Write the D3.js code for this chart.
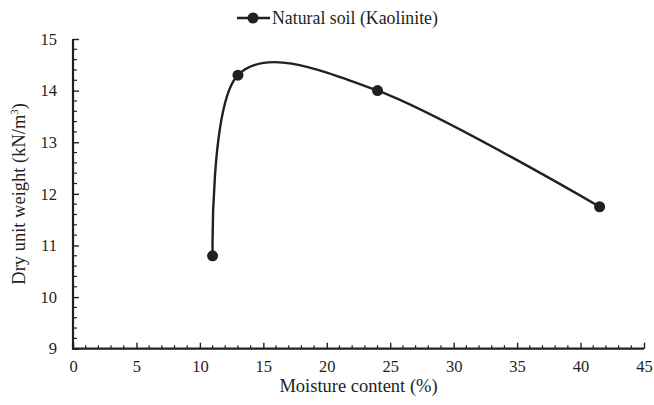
<!DOCTYPE html>
<html>
<head>
<meta charset="utf-8">
<script src="https://cdn.jsdelivr.net/npm/d3@7"></script>
</head>
<body style="margin:0;background:#fff">
<svg id="chart" width="654" height="405"></svg>
<script>
// data
const moisture = [11, 13, 24, 41.5];
const dryWeight = [10.8, 14.3, 14.0, 11.75];
const seriesName = "Natural soil (Kaolinite)";
const xTicks = [0, 5, 10, 15, 20, 25, 30, 35, 40, 45];
const yTicks = [9, 10, 11, 12, 13, 14, 15];

const ink = "#231f20";
const fontName = '"Liberation Serif"';

let svg = d3.select("#chart");

const x = d3.scaleLinear().domain([0, 45]).range([73, 644]);
const y = d3.scaleLinear().domain([9, 15]).range([348.7, 39]);

// minor ticks
let minor = svg.append("g").attr("stroke", ink).attr("stroke-width", 1.2);
minor.selectAll("line.mx")
  .data(d3.range(1, 45).filter(v => v % 5 !== 0))
  .enter().append("line")
  .attr("x1", d => x(d)).attr("x2", d => x(d))
  .attr("y1", y(9)).attr("y2", y(9) - 3.5);
minor.selectAll("line.my")
  .data(d3.range(9.2, 15, 0.2).filter(v => Math.abs(v - Math.round(v)) > 0.01))
  .enter().append("line")
  .attr("x1", x(0)).attr("x2", x(0) + 4)
  .attr("y1", d => y(d)).attr("y2", d => y(d));

// axes
let xAxis = d3.axisBottom(x).tickValues(xTicks).tickFormat(d3.format("d"))
  .tickSizeInner(-6).tickSizeOuter(0).tickPadding(12);
let gx = svg.append("g").attr("transform", `translate(0,${y(9)})`).call(xAxis);
let yAxis = d3.axisLeft(y).tickValues(yTicks).tickFormat(d3.format("d"))
  .tickSizeInner(-6).tickSizeOuter(0).tickPadding(16);
let gy = svg.append("g").attr("transform", `translate(${x(0)},0)`).call(yAxis);

function styleAxis(g) {
  g.attr("font-family", "Liberation Serif").attr("font-size", 16.5);
  g.select(".domain").attr("stroke", ink).attr("stroke-width", 2.2);
  g.selectAll("line").attr("stroke", ink).attr("stroke-width", 1.4);
  g.selectAll("text")
    .attr("font-family", "Liberation Serif").attr("font-size", 16.5).attr("fill", ink)
    .style("font-family", fontName).style("font-size", "16.5px");
}
styleAxis(gx);
styleAxis(gy);
gx.select(".domain").attr("d", `M${x(0) - 1},0H${x(45)}`);
gy.select(".domain").attr("d", `M0,${y(9) + 1}V${y(15)}`);

// axis titles
svg.append("text")
  .attr("x", (x(0) + x(45)) / 2).attr("y", 392)
  .attr("text-anchor", "middle")
  .style("font-family", fontName).style("font-size", "18.5px").style("fill", ink)
  .text("Moisture content (%)");

let yt = svg.append("text")
  .attr("transform", `translate(25,${(y(9) + y(15)) / 2}) rotate(-90)`)
  .attr("text-anchor", "middle")
  .style("font-family", fontName).style("font-size", "18.5px").style("fill", ink);
yt.append("tspan").text("Dry unit weight (kN/m");
yt.append("tspan").style("font-size", "11px").attr("dy", -7).text("3");
yt.append("tspan").attr("dy", 7).text(")");

// smoothed series line
const points = moisture.map((m, i) => [x(m), y(dryWeight[i])]);
const lineGenerator = d3.line().curve(d3.curveCardinal.tension(0));
svg.append("path")
  .attr("d", lineGenerator(points))
  .attr("fill", "none").attr("stroke", ink).attr("stroke-width", 2.4);

svg.append("g").selectAll("circle")
  .data(points)
  .enter().append("circle")
  .attr("cx", d => d[0]).attr("cy", d => d[1])
  .attr("r", 5.5).attr("fill", ink);

// legend
let legend = svg.append("g").attr("transform", "translate(237,18)");
legend.append("line").attr("x1", 0).attr("x2", 33).attr("y1", 0).attr("y2", 0)
  .attr("stroke", ink).attr("stroke-width", 2.4);
legend.append("circle").attr("cx", 16).attr("cy", 0).attr("r", 5.5).attr("fill", ink);
legend.append("text").attr("x", 35).attr("y", 6)
  .style("font-family", fontName).style("font-size", "17.8px").style("fill", ink)
  .text(seriesName);
</script>
</body>
</html>
